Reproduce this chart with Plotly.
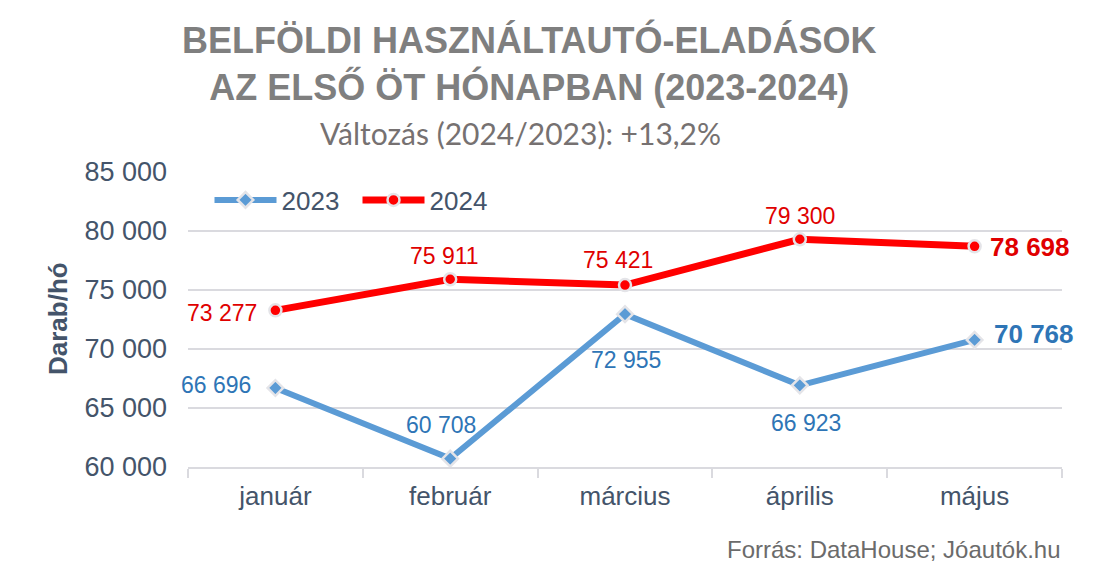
import plotly.graph_objects as go

# adatok
honapok = ["január", "február", "március", "április", "május"]
ertek_2023 = [66696, 60708, 72955, 66923, 70768]
ertek_2024 = [73277, 75911, 75421, 79300, 78698]
cimke_2023 = ["66 696", "60 708", "72 955", "66 923", "70 768"]
cimke_2024 = ["73 277", "75 911", "75 421", "79 300", "78 698"]
y_tickek = [60000, 65000, 70000, 75000, 80000, 85000]
y_cimkek = ["60 000", "65 000", "70 000", "75 000", "80 000", "85 000"]

KEK = "#5B9BD5"
KEK_SZOVEG = "#2E75B6"
PIROS = "#FF0000"
PIROS_SZOVEG = "#E00000"
TENGELY = "#44546A"
RACS = "#DADADF"
BETU = "Liberation Sans, Arial"

fig = go.Figure()
fig.add_trace(go.Scatter(
    x=honapok, y=ertek_2023, name="2023", mode="lines+markers",
    line=dict(color=KEK, width=6),
    marker=dict(symbol="diamond", size=12, color=KEK, line=dict(color="#E4E4E8", width=2.5)),
))
fig.add_trace(go.Scatter(
    x=honapok, y=ertek_2024, name="2024", mode="lines+markers",
    line=dict(color=PIROS, width=7),
    marker=dict(symbol="circle", size=12, color=PIROS, line=dict(color="#E4E4E8", width=2.5)),
))

# cimkek eltolasa (xshift, yshift) pontonként
hely_2023 = [(-59, 3), (-9, 34), (1, -46), (6, -38), (59, 6)]
hely_2024 = [(-53, -3), (-6, 23), (-7, 25), (0, 23), (55, -1)]

for i, m in enumerate(honapok):
    utolso = i == len(honapok) - 1
    for y, cimke, hely, szin in ((ertek_2023, cimke_2023, hely_2023, KEK_SZOVEG),
                                 (ertek_2024, cimke_2024, hely_2024, PIROS_SZOVEG)):
        fig.add_annotation(
            x=m, y=y[i], xref="x", yref="y", text=cimke[i], showarrow=False,
            xshift=hely[i][0], yshift=hely[i][1],
            font=dict(family=BETU, size=26 if utolso else 23, color=szin,
                      weight="bold" if utolso else "normal"))

# a rajzterulet kepernyon: x 188..1062, y 172..467
def px(x):
    return (x - 188) / 874

def py(y):
    return (467 - y) / 295

fig.add_annotation(
    x=px(529), y=py(63), xref="paper", yref="paper", xanchor="center", yanchor="middle",
    text="<b>BELFÖLDI HASZNÁLTAUTÓ-ELADÁSOK<br>AZ ELSŐ ÖT HÓNAPBAN (2023-2024)</b>",
    showarrow=False, align="center",
    font=dict(family=BETU, size=36, color="#7F7F7F"))
fig.add_annotation(
    x=px(520), y=py(133), xref="paper", yref="paper", xanchor="center", yanchor="middle",
    text="Változás (2024/2023): +13,2%", showarrow=False,
    font=dict(family="Lato, Open Sans", size=30, color="#767171"))
fig.add_annotation(
    x=px(1063), y=py(549), xref="paper", yref="paper", xanchor="right", yanchor="middle",
    text="Forrás: DataHouse; Jóautók.hu", showarrow=False,
    font=dict(family=BETU, size=24, color="#6B6B6B"))
fig.add_annotation(
    x=px(58), y=py(319), xref="paper", yref="paper", xanchor="center", yanchor="middle",
    text="<b>Darab/hó</b>", textangle=-90, showarrow=False,
    font=dict(family=BETU, size=26, color=TENGELY))

fig.update_layout(
    width=1113, height=581,
    margin=dict(l=180, r=59, t=164, b=122),
    plot_bgcolor="white", paper_bgcolor="white",
    font=dict(family=BETU, color=TENGELY),
    legend=dict(orientation="h", x=0.0246, y=py(200), yanchor="middle", xanchor="left",
                font=dict(size=26, color=TENGELY), bgcolor="rgba(0,0,0,0)", itemwidth=62,
                entrywidth=71, entrywidthmode="pixels"),
    xaxis=dict(type="category", showgrid=False, showline=True, linecolor=RACS, linewidth=2,
               ticks="outside", tickson="boundaries", ticklen=9, tickcolor=RACS, tickwidth=2,
               tickfont=dict(size=26, color=TENGELY), ticklabelstandoff=5, range=[-0.5, 4.5]),
    yaxis=dict(range=[60000, 85000], tickvals=y_tickek, ticktext=y_cimkek,
               showgrid=True, gridcolor=RACS, gridwidth=2, zeroline=False,
               tickfont=dict(size=27, color=TENGELY), ticks="", ticklabelstandoff=20),
)

fig.write_html("out.html")
